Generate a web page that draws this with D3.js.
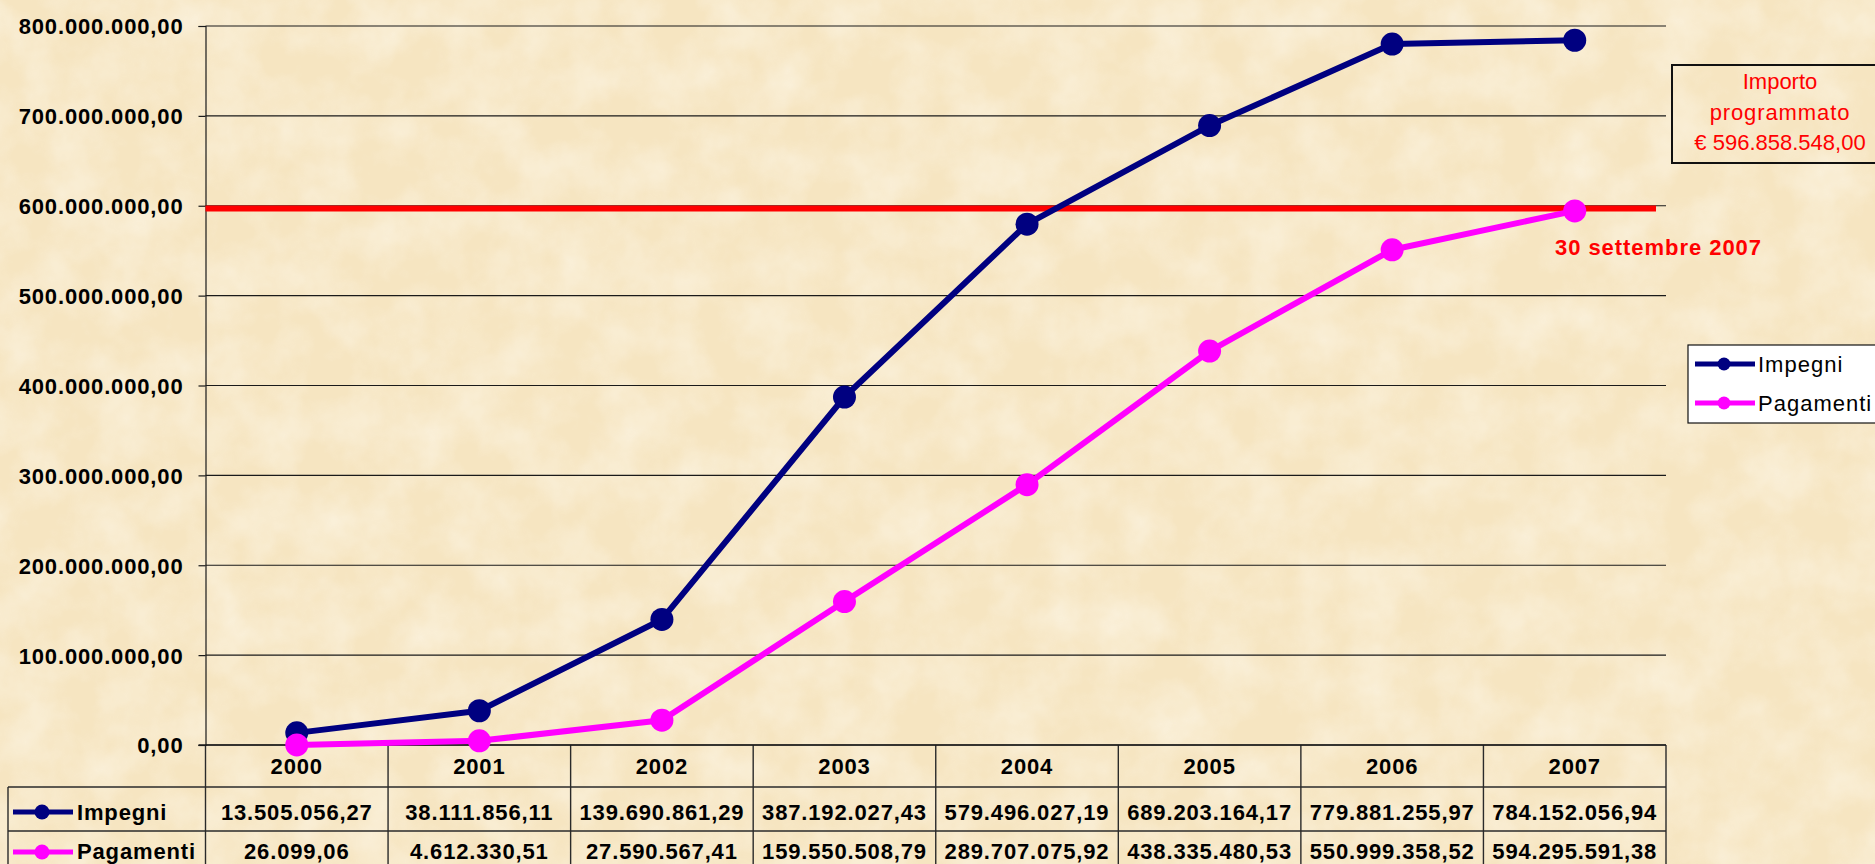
<!DOCTYPE html>
<html lang="it">
<head>
<meta charset="utf-8">
<title>Impegni e Pagamenti 2000-2007</title>
<script src="https://cdn.jsdelivr.net/npm/d3@7"></script>
<style>
  html, body { margin: 0; padding: 0; background: #f8eacb; overflow: hidden; }
  svg { display: block; font-family: "Liberation Sans", Arial, sans-serif; }
  .tick-label, .cell-text { font-weight: bold; font-size: 22px; letter-spacing: 0.85px; fill: #000; }
  .grid { stroke: #1a1a1a; stroke-width: 1.2; }
  .table-line { stroke: #2a2a2a; stroke-width: 1.4; fill: none; }
</style>
</head>
<body>
<svg id="chart" width="1875" height="864"></svg>
<script>
/* ============================================
   Impegni / Pagamenti — line chart + data table
   ============================================ */

// --- data ---
const years = ['2000', '2001', '2002', '2003', '2004', '2005', '2006', '2007'];
const impegni = [13505056.27, 38111856.11, 139690861.29, 387192027.43, 579496027.19, 689203164.17, 779881255.97, 784152056.94];
const pagamenti = [26099.06, 4612330.51, 27590567.41, 159550508.79, 289707075.92, 438335480.53, 550999358.52, 594295591.38];
const yTicks = [0, 100000000, 200000000, 300000000, 400000000, 500000000, 600000000, 700000000, 800000000];
const importoProgrammato = 596858548.00;
const seriesNames = ['Impegni', 'Pagamenti'];
const seriesColors = ['#000080', '#ff00ff'];

// Italian number format: 13.505.056,27
const it = d3.formatLocale({ decimal: ',', thousands: '.', grouping: [3], currency: ['€ ', ''] });
const fmt = it.format(',.2f');

const svg = d3.select('#chart');
const W = 1875, H = 864;

// parchment background (light mottling)
const defs = svg.append('defs');
const filt = defs.append('filter').attr('id', 'paper').attr('x', 0).attr('y', 0).attr('width', 1).attr('height', 1);
filt.append('feTurbulence').attr('type', 'fractalNoise').attr('baseFrequency', 0.02).attr('numOctaves', 4).attr('seed', 7);
filt.append('feColorMatrix').attr('type', 'matrix')
  .attr('values', '0 0 0 0 1  0 0 0 0 0.98  0 0 0 0 0.92  0 0 0 -1.4 0.95');
svg.append('rect').attr('width', W).attr('height', H).attr('fill', '#f6e5c1');
svg.append('rect').attr('width', W).attr('height', H).attr('filter', 'url(#paper)').attr('opacity', 0.55);

// --- scales ---
const plot = { left: 205.5, right: 1666, top: 26, bottom: 745 };
const x = d3.scaleBand().domain(years).range([plot.left, plot.right]);
const y = d3.scaleLinear().domain([0, 800000000]).range([plot.bottom, plot.top]);
const cx = d => x(d) + x.bandwidth() / 2;

// --- grid + y axis ---
const yAxis = d3.axisLeft(y).tickValues(yTicks).tickFormat(fmt).tickSize(7).tickPadding(15);
const gy = svg.append('g').attr('transform', `translate(${plot.left},0)`).call(yAxis);
gy.attr('font-size', null).attr('font-family', null);
gy.select('.domain').attr('stroke', '#1a1a1a').attr('stroke-width', 1.2);
gy.selectAll('.tick line').attr('stroke', '#1a1a1a').attr('stroke-width', 1.2);
gy.selectAll('.tick text').attr('class', 'tick-label').attr('dy', '0.36em');

svg.append('g').selectAll('line')
  .data(yTicks)
  .join('line')
  .attr('class', 'grid')
  .attr('x1', plot.left).attr('x2', plot.right)
  .attr('y1', d => y(d)).attr('y2', d => y(d));

// --- data table under the plot ---
const rowTops = [745, 787, 831];
const rowBaselines = [774, 820, 859];
const tableLeft = 8;
const tableBottom = 880;
const table = svg.append('g');

// vertical column lines
table.selectAll('line.col')
  .data(years.map(d => x(d)).concat([plot.right]))
  .join('line')
  .attr('class', 'table-line')
  .attr('x1', d => d).attr('x2', d => d)
  .attr('y1', rowTops[0]).attr('y2', tableBottom);
table.append('line').attr('class', 'table-line')
  .attr('x1', tableLeft).attr('x2', tableLeft).attr('y1', rowTops[1]).attr('y2', tableBottom);
// horizontal row lines
rowTops.slice(1).forEach(t => {
  table.append('line').attr('class', 'table-line')
    .attr('x1', tableLeft).attr('x2', plot.right)
    .attr('y1', t).attr('y2', t);
});

// header: years
table.selectAll('text.year')
  .data(years)
  .join('text')
  .attr('class', 'cell-text')
  .attr('text-anchor', 'middle')
  .attr('x', d => cx(d))
  .attr('y', rowBaselines[0])
  .text(d => d);

// value rows
const keyY = [812, 852];
[impegni, pagamenti].forEach((vals, i) => {
  table.append('g').selectAll('text')
    .data(vals)
    .join('text')
    .attr('class', 'cell-text')
    .attr('text-anchor', 'middle')
    .attr('x', (d, j) => cx(years[j]))
    .attr('y', rowBaselines[i + 1])
    .text(d => fmt(d));

  // legend key inside the row header
  table.append('line')
    .attr('x1', 13).attr('x2', 73).attr('y1', keyY[i]).attr('y2', keyY[i])
    .attr('stroke', seriesColors[i]).attr('stroke-width', 5);
  table.append('circle')
    .attr('cx', 42).attr('cy', keyY[i]).attr('r', 7.5)
    .attr('fill', seriesColors[i]);
  table.append('text')
    .attr('class', 'cell-text')
    .attr('x', 77).attr('y', rowBaselines[i + 1])
    .text(seriesNames[i]);
});

// x axis baseline (top of the table)
svg.append('line')
  .attr('x1', plot.left - 7).attr('x2', plot.right)
  .attr('y1', y(0)).attr('y2', y(0))
  .attr('stroke', '#1a1a1a').attr('stroke-width', 1.4);

// --- importo programmato reference line ---
svg.append('line')
  .attr('x1', plot.left).attr('x2', 1656)
  .attr('y1', y(importoProgrammato)).attr('y2', y(importoProgrammato))
  .attr('stroke', '#ff0000').attr('stroke-width', 6);

// --- series ---
const line = d3.line().x((d, i) => cx(years[i])).y(d => y(d));
[impegni, pagamenti].forEach((vals, i) => {
  const g = svg.append('g');
  g.append('path')
    .datum(vals)
    .attr('d', line)
    .attr('fill', 'none')
    .attr('stroke', seriesColors[i])
    .attr('stroke-width', 6)
    .attr('stroke-linejoin', 'round');
  g.selectAll('circle')
    .data(vals)
    .join('circle')
    .attr('cx', (d, j) => cx(years[j]))
    .attr('cy', d => y(d))
    .attr('r', 11.5)
    .attr('fill', seriesColors[i]);
});

// --- annotations ---
svg.append('text')
  .attr('x', 1555).attr('y', 255)
  .attr('fill', '#ff0000')
  .attr('font-weight', 'bold').attr('font-size', 22).attr('letter-spacing', 0.95)
  .text('30 settembre 2007');

const note = svg.append('g');
note.append('rect')
  .attr('x', 1672).attr('y', 65).attr('width', 215).attr('height', 98)
  .attr('fill', 'none').attr('stroke', '#111').attr('stroke-width', 2);
['Importo', 'programmato', it.format('$,.2f')(importoProgrammato)].forEach((t, i) => {
  note.append('text')
    .attr('x', 1780).attr('y', 89 + i * 30.5)
    .attr('text-anchor', 'middle')
    .attr('fill', '#ff0000').attr('font-size', 22)
    .attr('letter-spacing', i === 1 ? 0.9 : 0)
    .text(t);
});

// --- legend ---
const legend = svg.append('g');
legend.append('rect')
  .attr('x', 1688).attr('y', 345).attr('width', 200).attr('height', 78)
  .attr('fill', '#ffffff').attr('stroke', '#111').attr('stroke-width', 1.2);
seriesNames.forEach((name, i) => {
  const ly = 364 + i * 39;
  legend.append('line')
    .attr('x1', 1695).attr('x2', 1755).attr('y1', ly).attr('y2', ly)
    .attr('stroke', seriesColors[i]).attr('stroke-width', 5);
  legend.append('circle')
    .attr('cx', 1724).attr('cy', ly).attr('r', 6.5)
    .attr('fill', seriesColors[i]);
  legend.append('text')
    .attr('x', 1758).attr('y', ly + 8)
    .attr('font-size', 22).attr('letter-spacing', 1)
    .attr('fill', '#000')
    .text(name);
});
</script>
</body>
</html>
